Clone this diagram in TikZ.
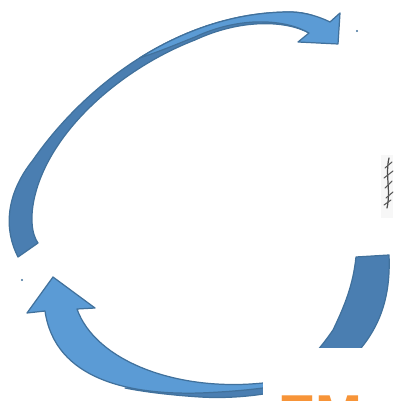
\documentclass[tikz,border=0pt]{standalone}
\usepackage{fontspec}
\newfontfamily\emfont{Liberation Sans}
\definecolor{arrowlight}{RGB}{91,155,213}
\definecolor{arrowdark}{RGB}{74,126,177}
\definecolor{arrowline}{RGB}{65,113,156}
\definecolor{emorange}{RGB}{247,148,56}
\begin{document}
\begin{tikzpicture}[x=0.02cm, y=-0.02cm,
    backband/.style={fill=arrowdark, draw=arrowline, line width=0.7pt, line join=round},
    frontband/.style={fill=arrowlight, draw=arrowline, line width=0.7pt, line join=round}]
\useasboundingbox (0,0) rectangle (393,401);

\draw[backband] (18,257) .. controls (4,230) and (5,195) .. (33,160)
    .. controls (85,85) and (180,12) .. (290,12) .. controls (300,12) and (308,14) .. (314,16)
    -- (309,33) .. controls (285,20) and (240,19) .. (195,40)
    .. controls (130,65) and (60,120) .. (38,185) .. controls (28,215) and (32,235) .. (38,243) -- cycle;
\draw[frontband] (139.75,57.9) .. controls (183.75,30.25) and (235,12) .. (290,12)
    .. controls (305,12) and (320,17) .. (330,22) -- (340,13) -- (338,44) -- (298,42) -- (309,33)
    .. controls (285,19) and (240,16) .. (195,37) .. controls (175,45) and (158,52) .. (139.75,57.9) -- cycle;

\draw[backband] (356,257) -- (389,255) .. controls (391,300) and (378,330) .. (355,355)
    .. controls (320,390) and (250,400) .. (200,397) .. controls (170,395) and (145,392) .. (125,388)
    -- (140,388) .. controls (200,391) and (250,389) .. (263,387) .. controls (280,384) and (292,376) .. (300,368)
    .. controls (310,360) and (322,346) .. (333,330) .. controls (345,305) and (353,285) .. (356,257) -- cycle;
\draw[frontband] (53,277) -- (95,308) -- (77,309) .. controls (95,360) and (175,392) .. (263,383) -- (272,382)
    -- (272,387) -- (270,387) .. controls (250,390) and (225,392) .. (200,393)
    .. controls (130,395) and (55,380) .. (45,311) -- (27,313) -- cycle;

\fill[white] (263,348) rectangle (400,410);
\node[anchor=base west, inner sep=0pt, text=emorange, font=\emfont\bfseries\fontsize{32}{38}\selectfont] (emword) at (278,434) {EM};

\fill[black!3] (381,155) rectangle (393,218);
\draw[black!70, line width=0.7pt, line cap=round] (389,158) .. controls (385,175) and (391,190) .. (387,208);
\draw[black!65, line width=0.6pt, line cap=round] (385,168) -- (392,162) (384,178) -- (393,171) (385,188) -- (392,181) (386,198) -- (393,192) (384,205) -- (391,200);

\fill[arrowline] (357,31) circle[radius=0.6pt];
\fill[arrowline] (22,280) circle[radius=0.6pt];
\end{tikzpicture}
\end{document}
